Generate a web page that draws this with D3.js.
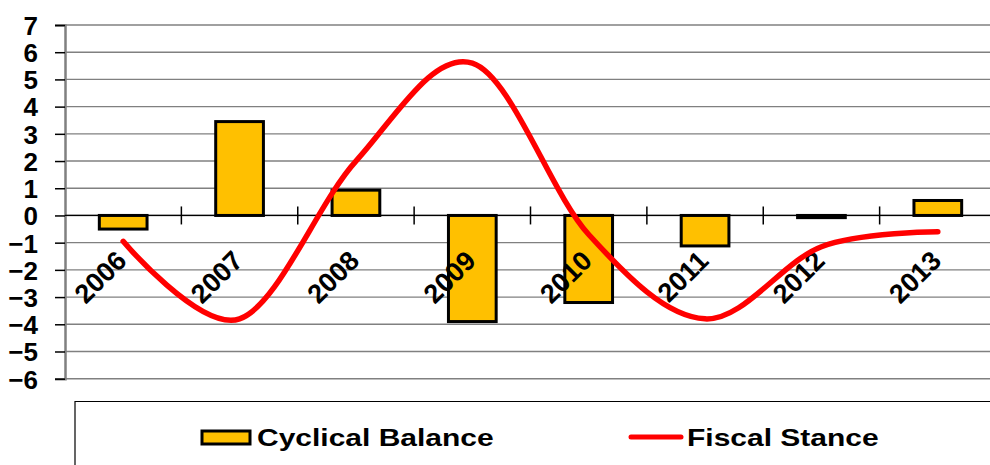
<!DOCTYPE html>
<html>
<head>
<meta charset="utf-8">
<script src="https://cdn.jsdelivr.net/npm/d3@7"></script>
<style>
  html, body { margin: 0; padding: 0; background: #fff; }
  svg { display: block; font-family: "Liberation Sans", Arial, sans-serif; font-weight: bold; }
</style>
</head>
<body>
<svg id="chart" width="990" height="465"></svg>
<script>
// chart values
const years = ['2006', '2007', '2008', '2009', '2010', '2011', '2012', '2013']
const cyclicalBalance = [-0.5, 3.45, 0.93, -3.9, -3.2, -1.12, -0.08, 0.55]
const fiscalStance = [-0.95, -3.8, 2.0, 5.6, -0.7, -3.8, -1.15, -0.6]
const yTicks = [-6, -5, -4, -3, -2, -1, 0, 1, 2, 3, 4, 5, 6, 7]
const legendNames = ['Cyclical Balance', 'Fiscal Stance']

const svg = d3.select('#chart')
const plotLeft = 65, plotRight = 996, plotTop = 25, plotBottom = 378.7

const x = d3.scaleBand().domain(years).range([plotLeft, plotRight]).padding(0)
const y = d3.scaleLinear().domain([-6, 7]).range([plotBottom, plotTop])

const barW = x.bandwidth() * 0.41

// gridlines
svg.append('g')
    .selectAll('line')
    .data(yTicks)
    .enter()
    .append('line')
    .attr('x1', plotLeft)
    .attr('x2', 990)
    .attr('y1', d => y(d))
    .attr('y2', d => y(d))
    .attr('stroke', '#808080')
    .attr('stroke-width', 1.4)

// y axis
const yAxis = svg.append('g')
    .attr('transform', `translate(${plotLeft},0)`)
    .call(d3.axisLeft(y).tickValues(yTicks).tickSize(10).tickPadding(17).tickFormat(d3.format('d')))
yAxis.select('.domain').attr('stroke', '#808080').attr('stroke-width', 2.5)
yAxis.selectAll('.tick line').attr('stroke', '#000').attr('stroke-width', 1.5)
yAxis.selectAll('.tick text')
    .attr('font-size', 26)
    .attr('font-family', '"Liberation Sans", Arial, sans-serif')
    .attr('font-weight', 'bold')
    .attr('fill', '#000')
    .attr('dy', '0.36em')

// bars
svg.append('g')
    .selectAll('.bar')
    .data(years.map((yr, i) => ({ yr, v: cyclicalBalance[i] })))
    .enter()
    .append('rect')
    .classed('bar', true)
    .attr('x', d => x(d.yr) + x.bandwidth() / 2 - barW / 2)
    .attr('width', barW)
    .attr('y', d => y(Math.max(0, d.v)))
    .attr('height', d => Math.abs(y(d.v) - y(0)))
    .attr('fill', '#FFC000')
    .attr('stroke', '#000')
    .attr('stroke-width', 3)

// zero axis with category ticks
const zero = svg.append('g')
zero.append('line')
    .attr('x1', plotLeft).attr('x2', 990)
    .attr('y1', y(0)).attr('y2', y(0))
    .attr('stroke', '#000').attr('stroke-width', 1.2)
zero.selectAll('.cat-tick')
    .data(years.slice(1))
    .enter()
    .append('line')
    .attr('x1', d => x(d)).attr('x2', d => x(d))
    .attr('y1', y(0) - 9).attr('y2', y(0) + 9)
    .attr('stroke', '#000').attr('stroke-width', 1.5)

// category labels
svg.append('g')
    .selectAll('text')
    .data(years)
    .enter()
    .append('text')
    .attr('transform', d => `translate(${x(d) + x.bandwidth() / 2 + 5},${y(0) + 47}) rotate(-45)`)
    .attr('text-anchor', 'end')
    .attr('font-size', 27)
    .attr('fill', '#000')
    .text(d => d)

// fiscal stance line
const line = d3.line()
    .x((d, i) => x(years[i]) + x.bandwidth() / 2)
    .y(d => y(d))
    .curve(d3.curveCatmullRom.alpha(0))

svg.append('path')
    .datum(fiscalStance)
    .attr('d', line)
    .attr('fill', 'none')
    .attr('stroke', '#FF0000')
    .attr('stroke-width', 5.5)
    .attr('stroke-linecap', 'round')

// legend frame
const legend = svg.append('g')
legend.append('path')
    .attr('d', 'M75,465 V401.5 H990')
    .attr('fill', 'none')
    .attr('stroke', '#000')
    .attr('stroke-width', 1.2)

legend.append('rect')
    .attr('x', 202).attr('y', 431)
    .attr('width', 48).attr('height', 13)
    .attr('fill', '#FFC000')
    .attr('stroke', '#000')
    .attr('stroke-width', 3)
legend.append('text')
    .attr('transform', 'translate(257,446) scale(1.25,1)')
    .attr('font-size', 24)
    .attr('fill', '#000')
    .text(legendNames[0])

legend.append('line')
    .attr('x1', 631).attr('x2', 681)
    .attr('y1', 437).attr('y2', 437)
    .attr('stroke', '#FF0000')
    .attr('stroke-width', 5)
    .attr('stroke-linecap', 'round')
legend.append('text')
    .attr('transform', 'translate(687,446) scale(1.25,1)')
    .attr('font-size', 24)
    .attr('fill', '#000')
    .text(legendNames[1])
</script>
</body>
</html>
